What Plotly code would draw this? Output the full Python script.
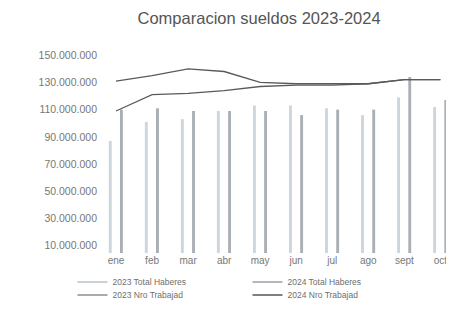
import plotly.graph_objects as go

meses = ["ene", "feb", "mar", "abr", "may", "jun", "jul", "ago", "sept", "oct"]
haberes_2023 = [87e6, 101e6, 103e6, 109e6, 113e6, 113e6, 111e6, 106e6, 119e6, 112e6]
haberes_2024 = [110e6, 111e6, 109e6, 109e6, 109e6, 106e6, 110e6, 110e6, 134e6, 117e6]
trabaj_2023 = [131e6, 135e6, 140e6, 138e6, 130e6, 129e6, 129e6, 129e6, 132e6, 132e6]
trabaj_2024 = [109e6, 121e6, 122e6, 124e6, 127e6, 128e6, 128e6, 129e6, 132e6, 132e6]
yticks = [10e6, 30e6, 50e6, 70e6, 90e6, 110e6, 130e6, 150e6]

c23 = "#cdd5dd"
c24 = "#a9afb5"
cl = "#5a5a5a"

fig = go.Figure()
fig.add_trace(go.Bar(x=meses, y=haberes_2023, width=0.08, offset=-0.2,
                     marker=dict(color=c23, line=dict(width=0)), showlegend=False))
fig.add_trace(go.Bar(x=meses, y=haberes_2024, width=0.08, offset=0.11,
                     marker=dict(color=c24, line=dict(width=0)), showlegend=False))
fig.add_trace(go.Scatter(x=meses, y=trabaj_2023, mode="lines",
                         line=dict(color=cl, width=1.3), showlegend=False))
fig.add_trace(go.Scatter(x=meses, y=trabaj_2024, mode="lines",
                         line=dict(color=cl, width=1.3), showlegend=False))

# legend entries (line samples, as in the reference), two rows
for name, col, lg in [("2023 Total Haberes", "#b9c2cb", "legend"),
                      ("2024 Total Haberes", "#9aa1a8", "legend"),
                      ("2023 Nro Trabajad", "#8a8f94", "legend2"),
                      ("2024 Nro Trabajad", "#555555", "legend2")]:
    fig.add_trace(go.Scatter(x=[None], y=[None], mode="lines", name=name,
                             line=dict(color=col, width=1.5), legend=lg))

leg_common = dict(orientation="h", xref="container", yref="container",
                  xanchor="left", yanchor="middle",
                  entrywidthmode="pixels", entrywidth=130,
                  font=dict(family="Liberation Sans, Arial", size=8.5, color="#6e6e6e"),
                  itemwidth=30, bgcolor="rgba(0,0,0,0)")

fig.update_layout(
    width=454, height=313,
    margin=dict(l=90, r=0, t=42, b=68),
    paper_bgcolor="white", plot_bgcolor="white",
    separators=",.",
    title=dict(text="Comparacion sueldos 2023-2024", x=0.553, xanchor="center",
               y=0.966, yanchor="middle",
               font=dict(family="Liberation Sans, Arial", size=16.5, color="#555555")),
    font=dict(family="Liberation Sans, Arial", size=8, color="#6e6e6e"),
    barmode="overlay",
    xaxis=dict(range=[-0.5, 9.6], showgrid=False, showline=False, ticks="",
               tickfont=dict(size=10, color="#777777")),
    yaxis=dict(range=[4.7e6, 153.8e6], tickvals=yticks, tickformat=",d",
               showgrid=False, zeroline=False, showline=False, ticks="",
               tickfont=dict(size=10.5, color="#777777")),
    legend=dict(x=0.142, y=(313 - 274) / 313, **leg_common),
    legend2=dict(x=0.142, y=(313 - 287) / 313, **leg_common),
)

fig.write_html("out.html")
